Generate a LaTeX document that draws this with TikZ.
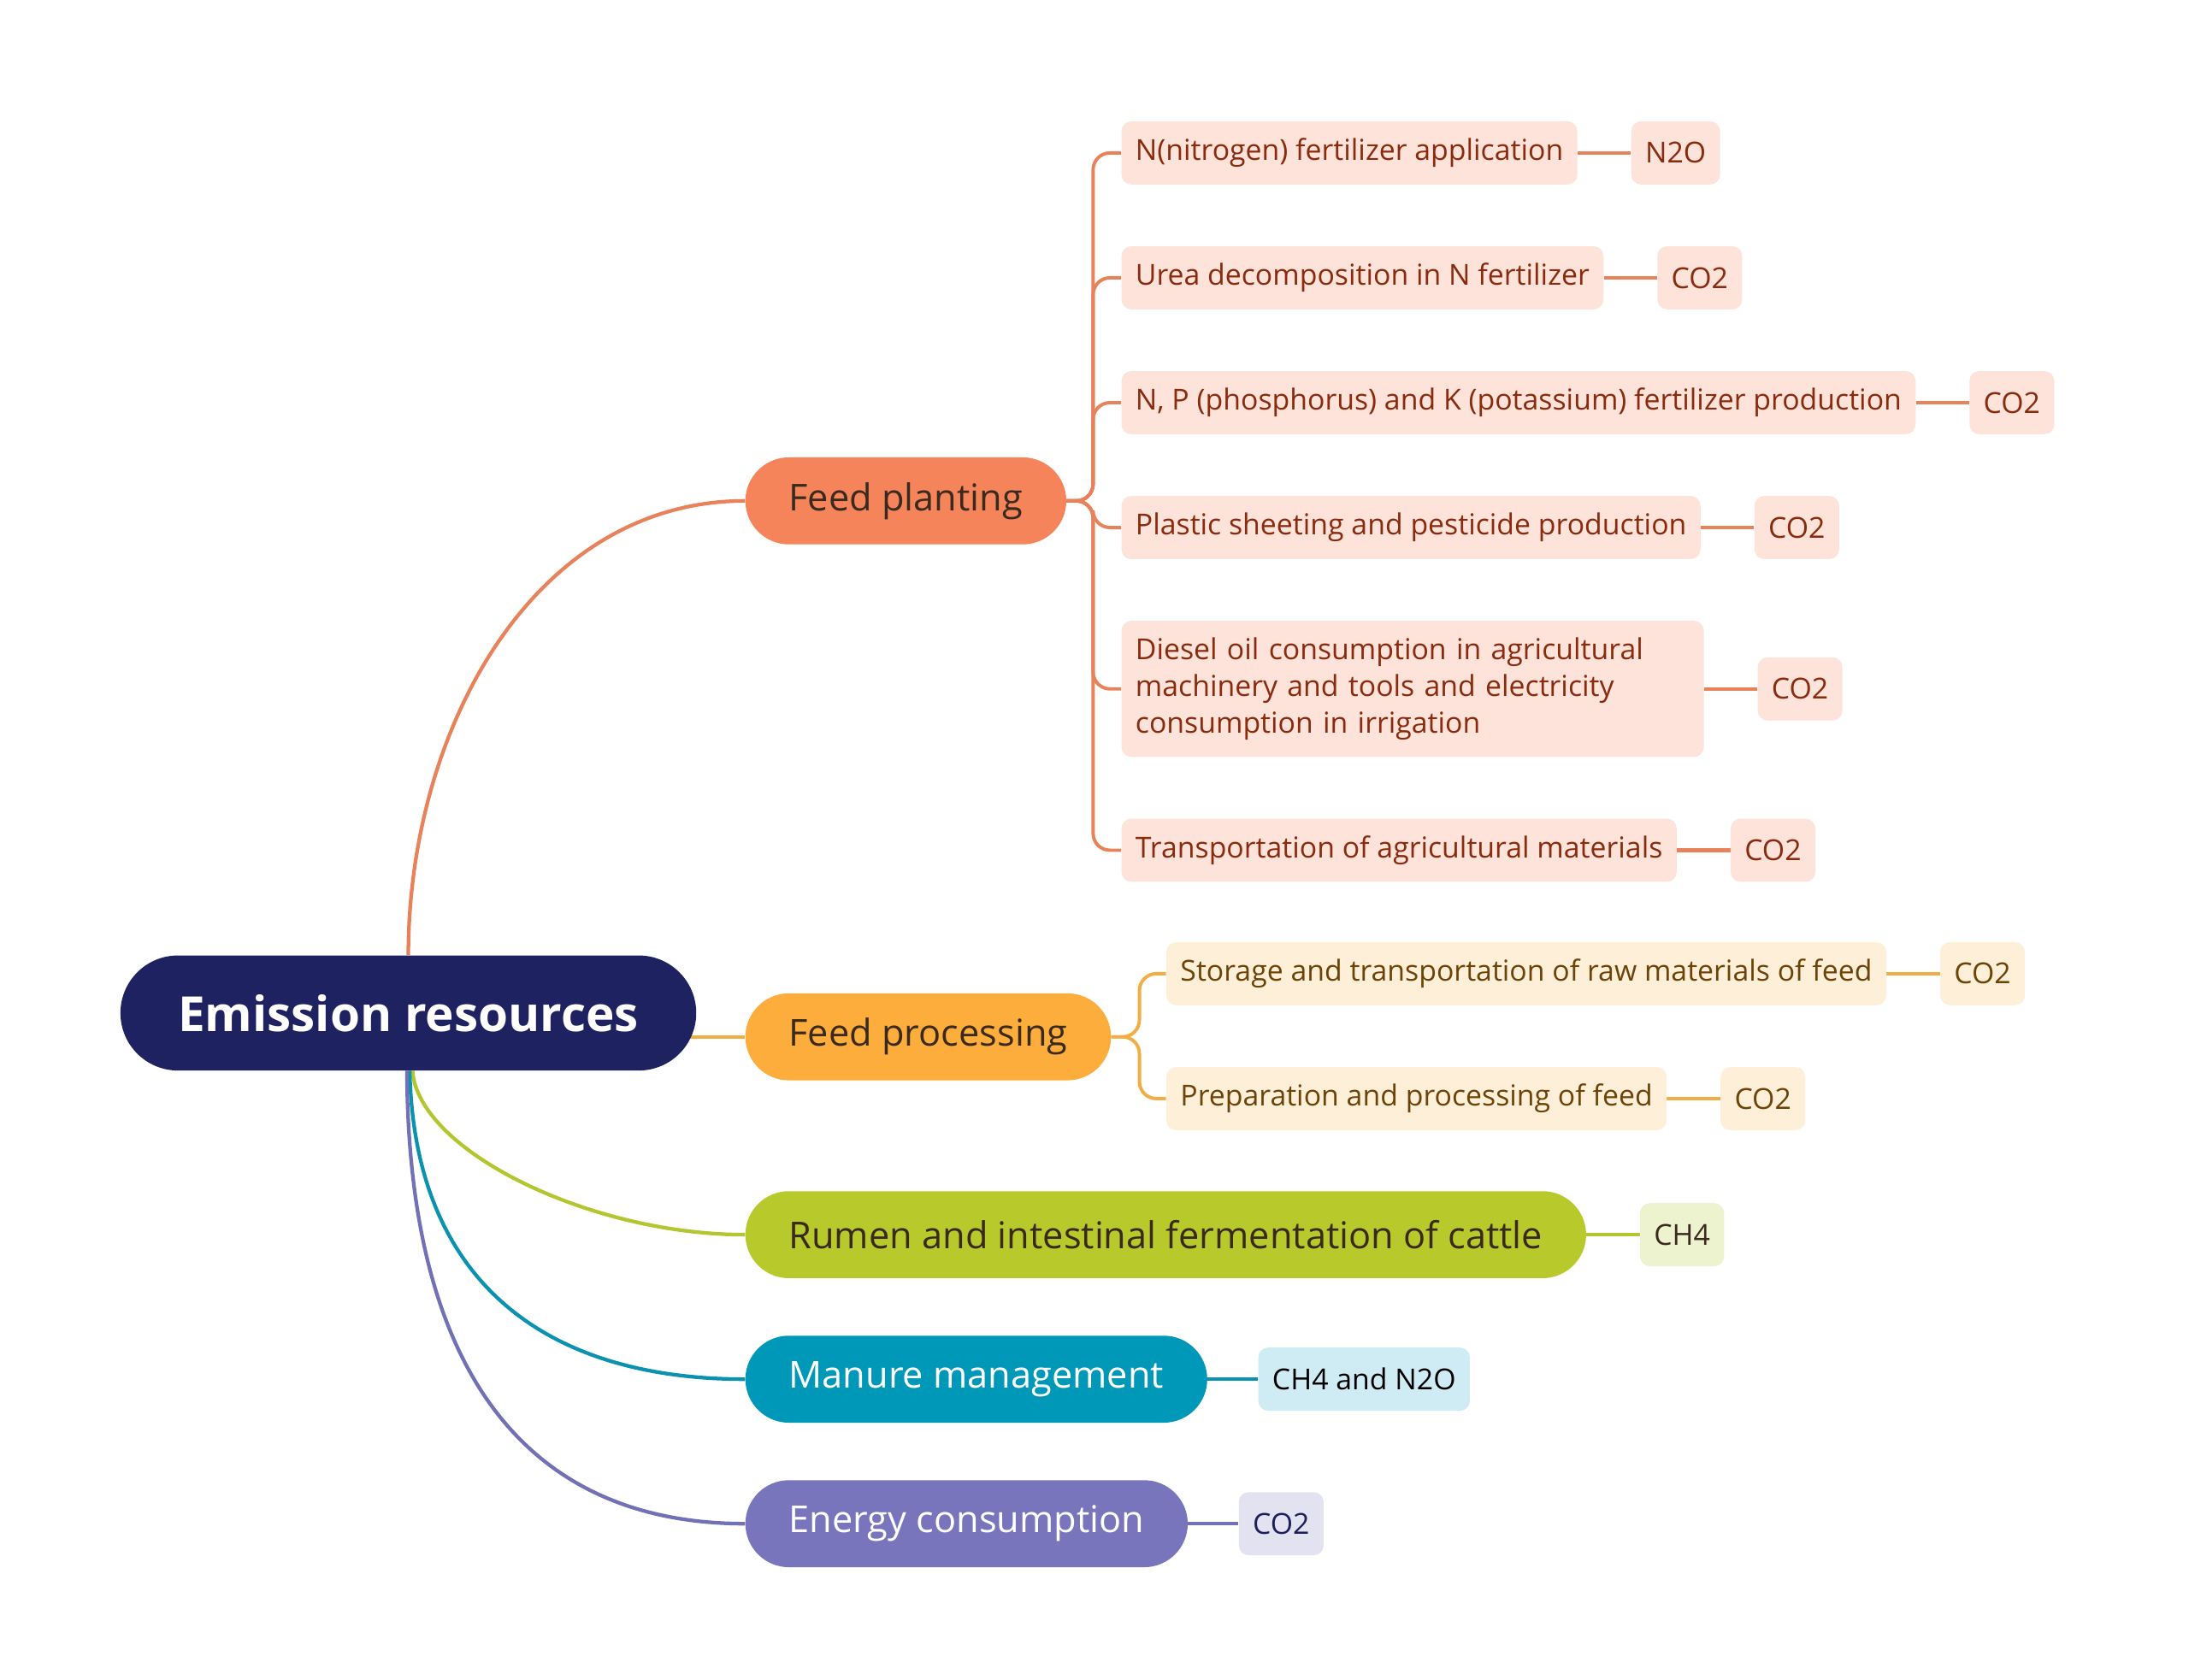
\documentclass[tikz,border=0pt]{standalone}
\usepackage{fontspec}
\setmainfont{Open Sans}
\usetikzlibrary{backgrounds}
\definecolor{rootc}{HTML}{1F2260}
\definecolor{fpc}{HTML}{F5845A}
\definecolor{fpl}{HTML}{E8825A}
\definecolor{fpk}{HTML}{FDE3D9}
\definecolor{fpt}{HTML}{8A2A0E}
\definecolor{fprc}{HTML}{FDAD3B}
\definecolor{fprl}{HTML}{F2AE45}
\definecolor{fprk}{HTML}{FDEFD8}
\definecolor{fprt}{HTML}{6E4308}
\definecolor{rumc}{HTML}{B8CA2B}
\definecolor{ruml}{HTML}{B3C62F}
\definecolor{rumk}{HTML}{EEF3CF}
\definecolor{manc}{HTML}{0098B9}
\definecolor{manl}{HTML}{0A92AE}
\definecolor{mank}{HTML}{CFEBF3}
\definecolor{enec}{HTML}{7875BC}
\definecolor{enel}{HTML}{7371B5}
\definecolor{enek}{HTML}{E3E2F1}
\definecolor{enet}{HTML}{1D1F5A}
\definecolor{darkt}{HTML}{3A2A1E}
\begin{document}
\begin{tikzpicture}[x=1pt,y=-1pt,
  rootbox/.style={fill=rootc, rounded corners=41pt, minimum height=82pt, inner xsep=41pt, inner ysep=0pt, text=white, font=\fontsize{34.5}{40}\selectfont\bfseries},
  lone/.style={rounded corners=31pt, minimum height=62pt, inner xsep=31pt, inner ysep=0pt, anchor=west, font=\fontsize{26.4}{31}\selectfont},
  ltwo/.style={rounded corners=7pt, minimum height=45pt, inner xsep=10pt, inner ysep=0pt, anchor=west, font=\fontsize{20.6}{26}\selectfont},
  conn/.style={line width=2.6pt},
  conntwo/.style={line width=2.4pt, rounded corners=12pt},
]
\useasboundingbox (0,0) rectangle (1560,1197);

% root
\node[rootbox] (root) at (291,722) {Emission resources};

% level one
\node[lone, fill=fpc, text=darkt] (fp) at (531,357) {Feed planting};
\node[lone, fill=fprc, text=darkt] (fpr) at (531,739) {Feed processing};
\node[lone, fill=rumc, text=darkt] (rum) at (531,880) {Rumen and intestinal fermentation of cattle};
\node[lone, fill=manc, text=white] (man) at (531,983) {Manure management};
\node[lone, fill=enec, text=white] (ene) at (531,1086) {Energy consumption};

% feed planting children
\tikzset{fpchild/.style={ltwo, fill=fpk, text=fpt}}
\node[fpchild] (a1) at (799,109) {N(nitrogen) fertilizer application};
\node[fpchild] (a2) at (799,198) {Urea decomposition in N fertilizer};
\node[fpchild] (a3) at (799,287) {N, P (phosphorus) and K (potassium) fertilizer production};
\node[fpchild] (a4) at (799,376) {Plastic sheeting and pesticide production};
\node[fpchild, text width=395pt, align=left, minimum height=97pt] (a5) at (799,491) {Diesel oil consumption in agricultural\\ machinery and tools and electricity\\ consumption in irrigation};
\node[fpchild] (a6) at (799,606) {Transportation of agricultural materials};

\node[fpchild] (g1) at ([xshift=38pt]a1.east) {N2O};
\node[fpchild] (g2) at ([xshift=38pt]a2.east) {CO2};
\node[fpchild] (g3) at ([xshift=38pt]a3.east) {CO2};
\node[fpchild] (g4) at ([xshift=38pt]a4.east) {CO2};
\node[fpchild] (g5) at ([xshift=38pt]a5.east) {CO2};
\node[fpchild] (g6) at ([xshift=38pt]a6.east) {CO2};

% feed processing children
\tikzset{fprchild/.style={ltwo, fill=fprk, text=fprt}}
\node[fprchild] (b1) at (831,694) {Storage and transportation of raw materials of feed};
\node[fprchild] (b2) at (831,783) {Preparation and processing of feed};
\node[fprchild] (h1) at ([xshift=38pt]b1.east) {CO2};
\node[fprchild] (h2) at ([xshift=38pt]b2.east) {CO2};

% other gases
\node[ltwo, fill=rumk, text=darkt] (r1) at ([xshift=38pt]rum.east) {CH4};
\node[ltwo, fill=mank, text=black] (m1) at ([xshift=36pt]man.east) {CH4 and N2O};
\node[ltwo, fill=enek, text=enet] (e1) at ([xshift=36pt]ene.east) {CO2};

\coordinate (fpj) at (779,357);
\coordinate (fprj) at (812,739);

\begin{scope}[on background layer]
  \draw[conn, fpl] (root.north) .. controls (291,520) and (380,357) .. (fp.west);
  \draw[conn, fprl] (fpr.west -| root.center) -- (fpr.west);
  \draw[conn, ruml] ([xshift=3pt]root.south) .. controls (298,820) and (420,880) .. (rum.west);
  \draw[conn, manl] ([xshift=1pt]root.south) .. controls (295,910) and (385,983) .. (man.west);
  \draw[conn, enel] ([xshift=-1pt]root.south) .. controls (291,990) and (385,1086) .. (ene.west);

  \foreach \c in {a1,a2,a3,a4,a5,a6}
    \draw[conntwo, fpl] (fp.east) -- (fpj) |- (\c.west);
  \foreach \c/\g in {a1/g1,a2/g2,a3/g3,a4/g4,a5/g5,a6/g6}
    \draw[conn, fpl] (\c.east) -- (\g.west);

  \foreach \c in {b1,b2}
    \draw[conntwo, fprl] (fpr.east) -- (fprj) |- (\c.west);
  \draw[conn, fprl] (b1.east) -- (h1.west);
  \draw[conn, fprl] (b2.east) -- (h2.west);

  \draw[conn, ruml] (rum.east) -- (r1.west);
  \draw[conn, manl] (man.east) -- (m1.west);
  \draw[conn, enel] (ene.east) -- (e1.west);
\end{scope}
\end{tikzpicture}
\end{document}
